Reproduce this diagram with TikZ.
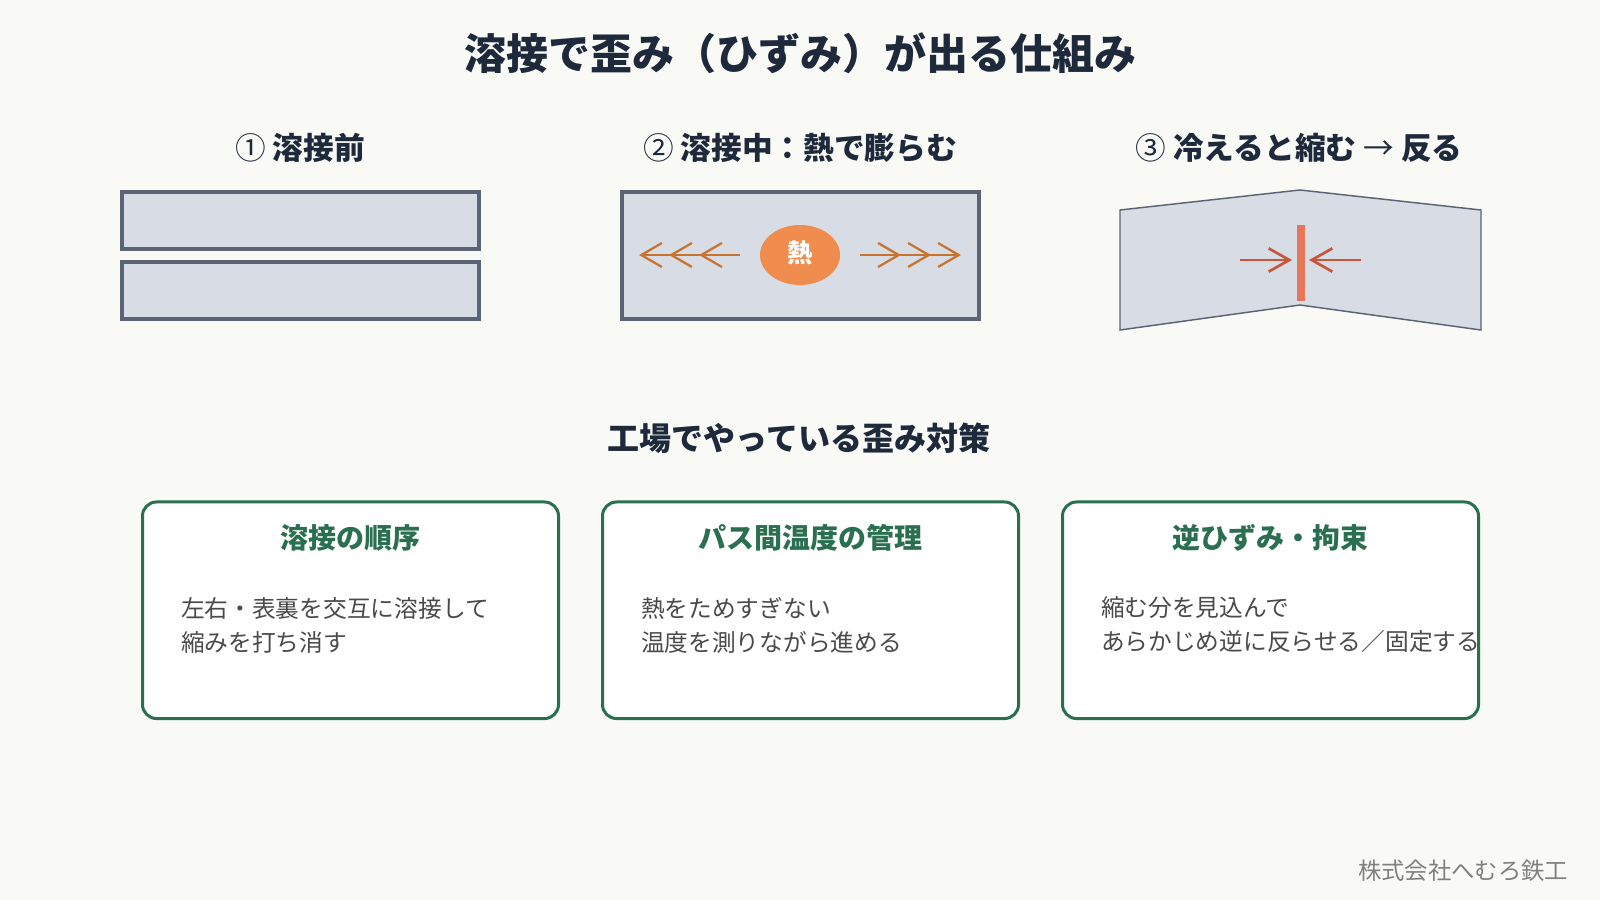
\documentclass[tikz,border=0pt]{standalone}
\usepackage{fontspec}
\setmainfont{Noto Sans CJK JP}
\usetikzlibrary{arrows.meta,shapes.geometric}
\definecolor{bg}{HTML}{F9FAF6}
\definecolor{ink}{HTML}{1E293B}
\definecolor{platefill}{HTML}{D8DCE5}
\definecolor{plateline}{HTML}{5B6475}
\definecolor{cardgreen}{HTML}{2A6F50}
\definecolor{bodytext}{HTML}{4A4A4A}
\definecolor{heatarrow}{HTML}{C8742E}
\definecolor{heatfill}{HTML}{EF8C4E}
\definecolor{weldbar}{HTML}{E5775A}
\definecolor{shrinkcol}{HTML}{C8553A}
\definecolor{footercol}{HTML}{808080}
\begin{document}
\begin{tikzpicture}[x=0.75pt,y=-0.75pt,
  every node/.style={inner sep=0pt,outer sep=0pt},
  maintitle/.style={font=\fontsize{31.5}{36}\selectfont\bfseries,text=ink},
  steptitle/.style={font=\fontsize{23}{28}\selectfont\bfseries,text=ink},
  sectitle/.style={font=\fontsize{24}{29}\selectfont\bfseries,text=ink},
  plate/.style={draw=plateline,fill=platefill,line width=3pt},
  bentplate/.style={draw=plateline,fill=platefill,line width=1.1pt,line join=miter},
  heatarr/.style={draw=heatarrow,line width=1.7pt,-{Straight Barb[length=15.5pt,width=18pt]}},
  shrinkarr/.style={draw=shrinkcol,line width=2pt,-{Straight Barb[length=15.5pt,width=17.5pt]}},
  card/.style={draw=cardgreen,fill=white,line width=2.25pt,rounded corners=10.5pt,minimum width=312pt,minimum height=162.4pt},
  cardtitle/.style={font=\fontsize{21}{25}\selectfont\bfseries,text=cardgreen},
  cardbody/.style={font=\fontsize{17.8}{25.5}\selectfont,text=bodytext,align=left,anchor=west},
  footer/.style={font=\fontsize{17.5}{21}\selectfont,text=footercol,anchor=east}]
\fill[bg] (0,0) rectangle (1600,900);
\useasboundingbox (0,0) rectangle (1600,900);

% title
\node[maintitle] (title) at (800,53) {溶接で歪み（ひずみ）が出る仕組み};

% step titles
\node[steptitle] (s1) at (300,147.5) {{\mdseries ①} 溶接前};
\node[steptitle] (s2) at (800,147.5) {{\mdseries ②} 溶接中：熱で膨らむ};
\node[steptitle] (s3) at (1299,147.5) {{\mdseries ③} 冷えると縮む {\mdseries →} 反る};

% step 1 plates
\draw[plate] (122,192) rectangle (479,249);
\draw[plate] (122,262) rectangle (479,319);

% step 2 plate with heat
\draw[plate] (622,192) rectangle (979,319);
\node[ellipse,fill=heatfill,minimum width=60pt,minimum height=45pt] (heat) at (800,255) {};
\node[font=\fontsize{19}{22}\selectfont\bfseries,text=white] (heatlabel) at (800,253) {熱};
\coordinate (hl0) at (740,255);
\coordinate (hl1) at (639,255);
\coordinate (hl2) at (669,255);
\coordinate (hl3) at (699,255);
\coordinate (hr0) at (860,255);
\coordinate (hr1) at (961,255);
\coordinate (hr2) at (931,255);
\coordinate (hr3) at (901,255);
\draw[heatarr] (hl0) -- (hl1);
\draw[heatarr] (hl0) -- (hl2);
\draw[heatarr] (hl0) -- (hl3);
\draw[heatarr] (hr0) -- (hr1);
\draw[heatarr] (hr0) -- (hr2);
\draw[heatarr] (hr0) -- (hr3);

% step 3 bent plate
\draw[bentplate] (1120,210) -- (1300,190) -- (1481,210) -- (1481,330) -- (1300,305) -- (1120,330) -- cycle;
\fill[weldbar] (1297,225) rectangle (1305,301);
\coordinate (sl0) at (1240,260);
\coordinate (sl1) at (1292,260);
\coordinate (sr0) at (1361,260);
\coordinate (sr1) at (1309,260);
\draw[shrinkarr] (sl0) -- (sl1);
\draw[shrinkarr] (sr0) -- (sr1);

% section heading
\node[sectitle] (sec) at (799,438) {工場でやっている歪み対策};

% cards
\node[card] (c1) at (350.5,610.25) {};
\node[card] (c2) at (810.5,610.25) {};
\node[card] (c3) at (1270.5,610.25) {};
\node[cardtitle] (t1) at (350.5,538) {溶接の順序};
\node[cardtitle] (t2) at (810.5,538) {パス間温度の管理};
\node[cardtitle] (t3) at (1270.5,538) {逆ひずみ・拘束};
\node[cardbody] (b1) at (181,625) {左右・表裏を交互に溶接して\\縮みを打ち消す};
\node[cardbody] (b2) at (641,625) {熱をためすぎない\\温度を測りながら進める};
\node[cardbody] (b3) at (1101,625) {縮む分を見込んで\\あらかじめ逆に反らせる／固定する};

% footer
\node[footer] (foot) at (1568,871) {株式会社へむろ鉄工};
\end{tikzpicture}
\end{document}
